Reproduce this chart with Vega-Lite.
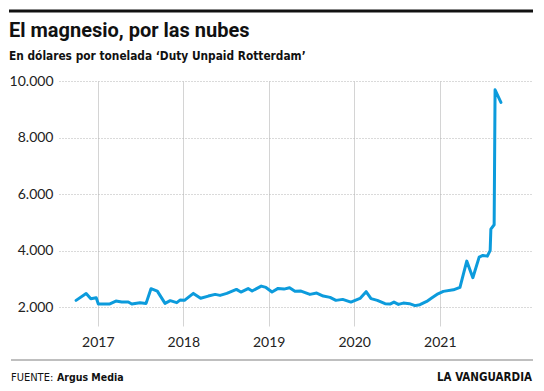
{
  "$schema": "https://vega.github.io/schema/vega-lite/v6.json",
  "width": 474,
  "height": 245,
  "autosize": "none",
  "padding": {"left": 59, "top": 81, "right": 11, "bottom": 65},
  "background": "white",
  "config": {"view": {"stroke": null}},
  "layer": [
    {
      "data": {
        "values": [
          {"date": "2016-09-30", "price": 2237},
          {"date": "2016-11-12", "price": 2480},
          {"date": "2016-12-02", "price": 2297},
          {"date": "2016-12-25", "price": 2332},
          {"date": "2017-01-03", "price": 2106},
          {"date": "2017-02-19", "price": 2106},
          {"date": "2017-03-19", "price": 2212},
          {"date": "2017-04-13", "price": 2177},
          {"date": "2017-05-11", "price": 2177},
          {"date": "2017-05-26", "price": 2106},
          {"date": "2017-06-30", "price": 2155},
          {"date": "2017-07-26", "price": 2130},
          {"date": "2017-08-16", "price": 2650},
          {"date": "2017-09-12", "price": 2565},
          {"date": "2017-10-15", "price": 2130},
          {"date": "2017-11-06", "price": 2226},
          {"date": "2017-12-04", "price": 2155},
          {"date": "2017-12-18", "price": 2247},
          {"date": "2018-01-06", "price": 2237},
          {"date": "2018-02-13", "price": 2484},
          {"date": "2018-03-16", "price": 2310},
          {"date": "2018-04-18", "price": 2389},
          {"date": "2018-05-17", "price": 2449},
          {"date": "2018-06-07", "price": 2413},
          {"date": "2018-07-06", "price": 2484},
          {"date": "2018-08-16", "price": 2625},
          {"date": "2018-09-04", "price": 2530},
          {"date": "2018-10-05", "price": 2655},
          {"date": "2018-10-22", "price": 2570},
          {"date": "2018-11-30", "price": 2742},
          {"date": "2018-12-20", "price": 2695},
          {"date": "2019-01-15", "price": 2535},
          {"date": "2019-02-10", "price": 2660},
          {"date": "2019-03-07", "price": 2636},
          {"date": "2019-03-31", "price": 2685},
          {"date": "2019-04-23", "price": 2560},
          {"date": "2019-05-19", "price": 2565},
          {"date": "2019-06-26", "price": 2449},
          {"date": "2019-07-25", "price": 2495},
          {"date": "2019-08-22", "price": 2389},
          {"date": "2019-09-20", "price": 2343},
          {"date": "2019-10-15", "price": 2237},
          {"date": "2019-11-13", "price": 2272},
          {"date": "2019-12-18", "price": 2177},
          {"date": "2020-01-26", "price": 2307},
          {"date": "2020-02-21", "price": 2544},
          {"date": "2020-03-13", "price": 2297},
          {"date": "2020-04-09", "price": 2237},
          {"date": "2020-05-12", "price": 2120},
          {"date": "2020-06-02", "price": 2106},
          {"date": "2020-06-19", "price": 2177},
          {"date": "2020-07-08", "price": 2095},
          {"date": "2020-07-29", "price": 2141},
          {"date": "2020-08-24", "price": 2120},
          {"date": "2020-09-17", "price": 2050},
          {"date": "2020-10-08", "price": 2085},
          {"date": "2020-11-06", "price": 2200},
          {"date": "2020-11-27", "price": 2318},
          {"date": "2020-12-24", "price": 2470},
          {"date": "2021-01-16", "price": 2555},
          {"date": "2021-02-28", "price": 2610},
          {"date": "2021-03-28", "price": 2700},
          {"date": "2021-04-26", "price": 3626},
          {"date": "2021-05-22", "price": 3039},
          {"date": "2021-06-18", "price": 3767},
          {"date": "2021-07-04", "price": 3828},
          {"date": "2021-07-23", "price": 3802},
          {"date": "2021-08-04", "price": 4004},
          {"date": "2021-08-07", "price": 4760},
          {"date": "2021-08-21", "price": 4912},
          {"date": "2021-08-25", "price": 9690},
          {"date": "2021-09-19", "price": 9245}
        ]
      },
      "mark": {"type": "line", "color": "#0c9bdc", "strokeWidth": 3, "strokeJoin": "round", "strokeCap": "round"},
      "encoding": {
        "x": {
          "field": "date",
          "type": "temporal",
          "scale": {
            "type": "utc",
            "domain": [
              {"year": 2016, "month": 7, "date": 19, "utc": true},
              {"year": 2022, "month": 2, "date": 3, "utc": true}
            ]
          },
          "axis": {
            "title": null,
            "values": [
              {"year": 2017, "month": 1, "date": 1, "utc": true},
              {"year": 2018, "month": 1, "date": 1, "utc": true},
              {"year": 2019, "month": 1, "date": 1, "utc": true},
              {"year": 2020, "month": 1, "date": 1, "utc": true},
              {"year": 2021, "month": 1, "date": 1, "utc": true}
            ],
            "format": "%Y",
            "domain": false,
            "ticks": false,
            "labelFont": "Lato",
            "labelFontSize": 14,
            "labelColor": "#222222",
            "labelPadding": 9,
            "labelDx": 11,
            "grid": true,
            "gridColor": "#d4d4d4",
            "gridWidth": 1
          }
        },
        "y": {
          "field": "price",
          "type": "quantitative",
          "scale": {"domain": [1330, 10000], "zero": false, "nice": false},
          "axis": {
            "title": null,
            "values": [2000, 4000, 6000, 8000, 10000],
            "labelExpr": "replace(format(datum.value, ','), ',', '.')",
            "domain": false,
            "ticks": false,
            "labelFont": "Lato",
            "labelFontSize": 14,
            "labelColor": "#222222",
            "labelPadding": 6,
            "grid": true,
            "gridColor": "#b5b5b5",
            "gridDash": [1, 2],
            "gridWidth": 1
          }
        }
      }
    },
    {
      "data": {"values": [{}]},
      "mark": {"type": "rule", "strokeWidth": 3, "color": "#111111"},
      "encoding": {"x": {"value": -50}, "x2": {"value": 474}, "y": {"value": -70}}
    },
    {
      "data": {"values": [{}]},
      "mark": {"type": "text", "text": "El magnesio, por las nubes", "align": "left", "baseline": "alphabetic", "font": "Roboto", "fontSize": 20, "fontWeight": "bold", "color": "#111111"},
      "encoding": {"x": {"value": -50}, "y": {"value": -44}}
    },
    {
      "data": {"values": [{}]},
      "mark": {"type": "text", "text": "En dólares por tonelada ‘Duty Unpaid Rotterdam’", "align": "left", "baseline": "alphabetic", "font": "DejaVu Sans Condensed, Roboto", "fontSize": 11.8, "fontWeight": "bold", "color": "#111111"},
      "encoding": {"x": {"value": -50}, "y": {"value": -21}}
    },
    {
      "data": {"values": [{}]},
      "mark": {"type": "rule", "strokeWidth": 1.5, "color": "#aaaaaa"},
      "encoding": {"x": {"value": -48}, "x2": {"value": 474}, "y": {"value": 279}}
    },
    {
      "data": {"values": [{}]},
      "mark": {"type": "text", "text": "FUENTE:", "align": "left", "baseline": "alphabetic", "font": "DejaVu Sans Condensed, Roboto", "fontSize": 11, "color": "#111111"},
      "encoding": {"x": {"value": -48}, "y": {"value": 300}}
    },
    {
      "data": {"values": [{}]},
      "mark": {"type": "text", "text": "Argus Media", "align": "left", "baseline": "alphabetic", "font": "DejaVu Sans Condensed, Roboto", "fontSize": 10.5, "fontWeight": "bold", "color": "#111111"},
      "encoding": {"x": {"value": -2}, "y": {"value": 300}}
    },
    {
      "data": {"values": [{}]},
      "mark": {"type": "text", "text": "LA VANGUARDIA", "align": "right", "baseline": "alphabetic", "font": "DejaVu Sans Condensed, Roboto", "fontSize": 11.5, "fontWeight": "bold", "color": "#111111"},
      "encoding": {"x": {"value": 473}, "y": {"value": 300}}
    }
  ]
}
